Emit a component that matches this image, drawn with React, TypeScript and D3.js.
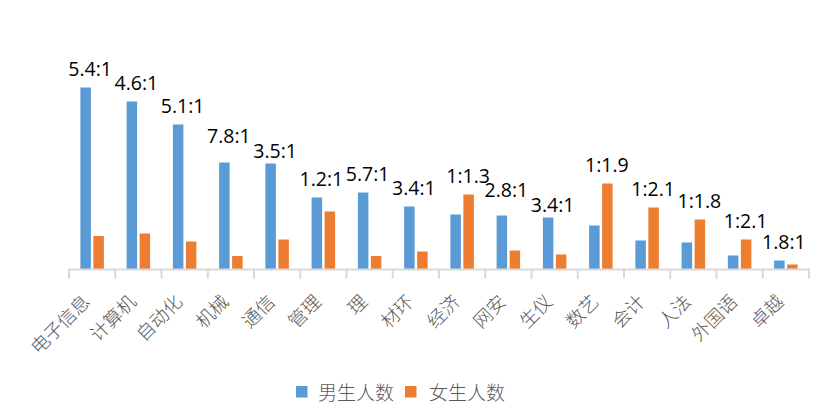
import React from "react";
import * as d3 from "d3";

const categories = ["电子信息", "计算机", "自动化", "机械", "通信", "管理", "理", "材环", "经济", "网安", "生仪", "数艺", "会计", "人法", "外国语", "卓越"];
const maleCounts = [182, 168, 145, 107, 106, 72, 77, 63, 55, 54, 52, 44, 29, 27, 14, 9];
const femaleCounts = [33.5, 36, 28, 13.5, 30, 58, 13.5, 18, 75, 19, 15, 86, 62, 50, 30, 5];
const ratioLabels = ["5.4:1", "4.6:1", "5.1:1", "7.8:1", "3.5:1", "1.2:1", "5.7:1", "3.4:1", "1:1.3", "2.8:1", "3.4:1", "1:1.9", "1:2.1", "1:1.8", "1:2.1", "1.8:1"];
const seriesNames = ["男生人数", "女生人数"];

const W = 828;
const H = 419;
const COLORS = ["#5b9bd5", "#ed7d31"];
const AXIS_Y = 269.5;

export default function App() {
  const x0 = d3.scaleBand<string>().domain(categories).range([69, 809]).paddingInner(0).paddingOuter(0);
  const bw = x0.bandwidth();
  const groupW = 23.5;
  const x1 = d3
    .scaleBand<string>()
    .domain(seriesNames)
    .range([(bw - groupW) / 2, (bw + groupW) / 2])
    .paddingInner(0.1923)
    .paddingOuter(0);
  const y = d3.scaleLinear().domain([0, 200]).range([AXIS_Y, AXIS_Y - 200]);

  const series = [maleCounts, femaleCounts];
  const numFont = "'Open Sans', 'Liberation Sans', sans-serif";
  const cjkFont = "'Noto Sans CJK SC', sans-serif";

  // ratio label placement: when two neighbouring labels would sit level, split them vertically
  const labels = categories.map((c, i) => {
    const m = maleCounts[i];
    const f = femaleCounts[i];
    const cx = (x0(c) as number) + bw / 2 + (f > m ? 6 : -2);
    const top = y(Math.max(m, f));
    return { cx, top, by: top - 12 };
  });
  for (let i = 0; i < labels.length - 1; i++) {
    const a = labels[i];
    const b = labels[i + 1];
    if (Math.abs(a.cx - b.cx) < 47 && Math.abs(a.by - b.by) < 4) {
      const mid = (a.by + b.by) / 2;
      b.by = Math.min(mid + 7, b.top - 3);
      a.by = b.by - 15;
    }
  }

  return (
    <svg width={W} height={H} style={{ position: "absolute", left: 0, top: 0, background: "#fff" }}>
      {/* bars */}
      {categories.map((c, i) => (
        <g key={c} transform={`translate(${x0(c)},0)`}>
          {series.map((vals, si) => (
            <rect
              key={si}
              x={x1(seriesNames[si])}
              y={y(vals[i])}
              width={x1.bandwidth()}
              height={AXIS_Y - y(vals[i])}
              fill={COLORS[si]}
            />
          ))}
        </g>
      ))}

      {/* axis */}
      <line x1={69} x2={809} y1={AXIS_Y} y2={AXIS_Y} stroke="#d9d9d9" strokeWidth={2} />
      {d3.range(categories.length + 1).map((k) => {
        const xx = 69 + k * bw;
        return <line key={k} x1={xx} x2={xx} y1={AXIS_Y - 1} y2={AXIS_Y + 9} stroke="#d9d9d9" strokeWidth={2} />;
      })}

      {/* category labels */}
      {categories.map((c) => {
        const cx = (x0(c) as number) + bw / 2 - 1;
        const cy = 303;
        return (
          <text
            key={c}
            transform={`translate(${cx},${cy}) rotate(-45)`}
            textAnchor="end"
            fontFamily={cjkFont}
            fontSize={18.5}
            fontWeight={300}
            fill="#595959"
          >
            {c}
          </text>
        );
      })}

      {/* ratio labels */}
      {labels.map((l, i) => (
        <text
          key={i}
          x={l.cx}
          y={l.by}
          textAnchor="middle"
          fontFamily={numFont}
          fontSize={19.5}
          fill="#000"
        >
          {ratioLabels[i]}
        </text>
      ))}

      {/* legend */}
      <g>
        <rect x={296} y={386} width={11.5} height={11.5} fill={COLORS[0]} />
        <text x={318} y={400} fontFamily={cjkFont} fontSize={19} fontWeight={300} fill="#595959">
          {seriesNames[0]}
        </text>
        <rect x={405} y={386} width={11.5} height={11.5} fill={COLORS[1]} />
        <text x={429} y={400} fontFamily={cjkFont} fontSize={19} fontWeight={300} fill="#595959">
          {seriesNames[1]}
        </text>
      </g>
    </svg>
  );
}
